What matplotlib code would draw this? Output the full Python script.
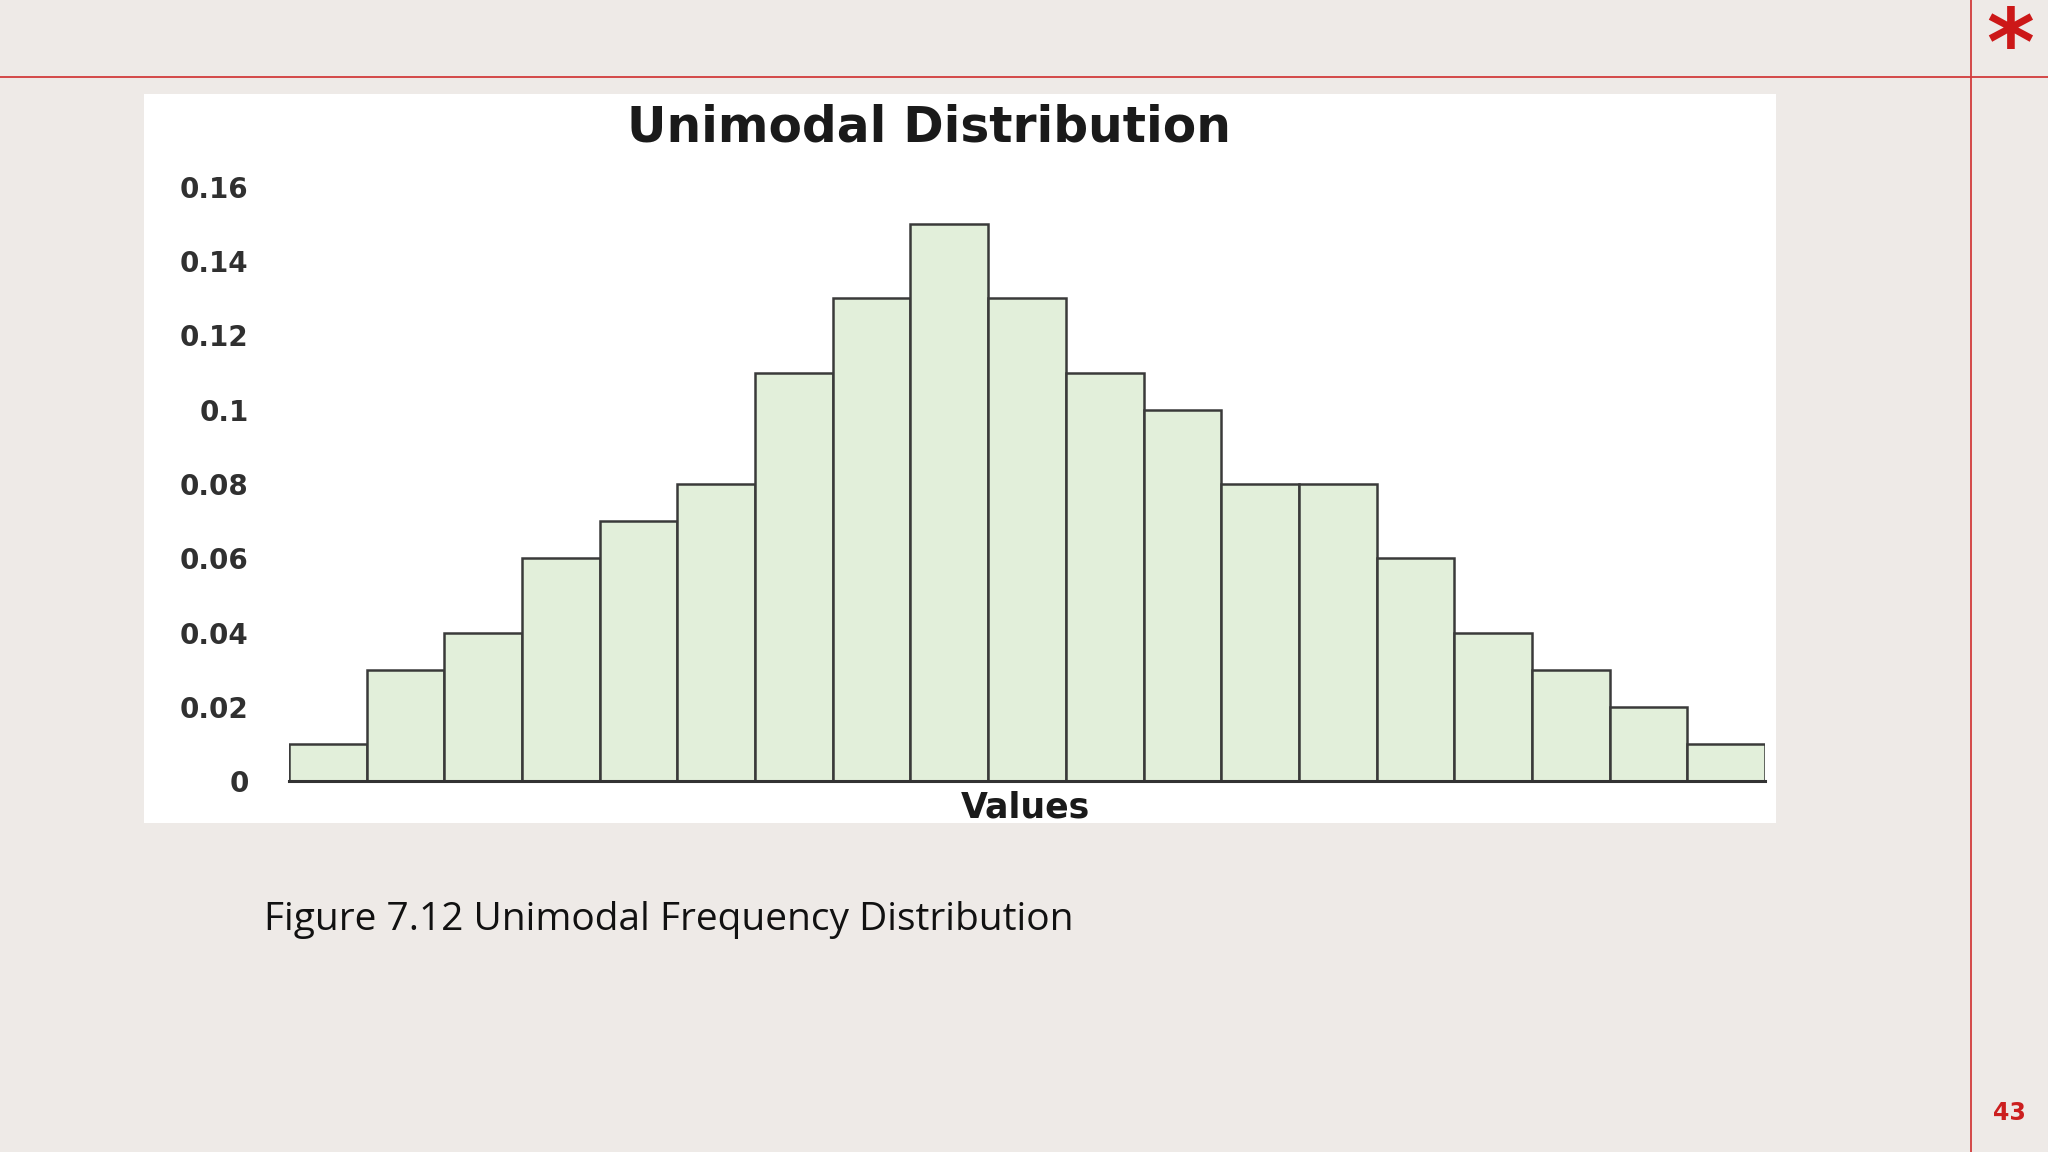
import matplotlib
matplotlib.use("Agg")
import matplotlib.pyplot as plt
from matplotlib.lines import Line2D
from matplotlib.patches import Rectangle

# --- data ---
freq = [0.01, 0.03, 0.04, 0.06, 0.07, 0.08, 0.11, 0.13, 0.15, 0.13,
        0.11, 0.10, 0.08, 0.08, 0.06, 0.04, 0.03, 0.02, 0.01]
yticks = [0, 0.02, 0.04, 0.06, 0.08, 0.1, 0.12, 0.14, 0.16]
ytick_labels = ["0", "0.02", "0.04", "0.06", "0.08", "0.1", "0.12", "0.14", "0.16"]
chart_title = "Unimodal Distribution"
x_label = "Values"
caption = "Figure 7.12 Unimodal Frequency Distribution"
page_no = "43"

W, H = 2048, 1152
bg = "#eeeae7"
red = "#d23c3c"

fig = plt.figure(figsize=(W / 100, H / 100), dpi=100, facecolor=bg)

def fx(px):
    return px / W

def fy(py):
    return 1 - py / H

# slide decoration: red rule lines
fig.add_artist(Line2D([0, 1], [fy(77), fy(77)], color=red, lw=1.3, zorder=0))
fig.add_artist(Line2D([fx(1971), fx(1971)], [0, 1], color=red, lw=1.3, zorder=0))
fig.text(fx(2010), fy(75), "*", color="#cc1818", fontsize=66, fontweight="heavy",
         ha="center", va="baseline")
fig.text(fx(2009), fy(1113), page_no, color="#cc1f1f", fontsize=17, fontweight="bold",
         ha="center", va="center")

# white picture panel
fig.add_artist(Rectangle((fx(144), fy(823)), fx(1776) - fx(144), fy(94) - fy(823),
                         transform=fig.transFigure, facecolor="white", edgecolor="none",
                         zorder=-1))

# plot area
left, right = 289, 1765
base, top = 781, 187
ax = fig.add_axes([fx(left), fy(base), fx(right) - fx(left), fy(top) - fy(base)])
ax.set_zorder(2)
ax.set_facecolor("none")
xs = list(range(len(freq)))
ax.bar(xs, freq, width=1.0, align="center", color="#e2efda",
       edgecolor="#3a3a3a", linewidth=1.8)
ax.set_xlim(-0.5, len(freq) - 0.5)
ax.set_ylim(0, 0.16)
ax.set_yticks(yticks)
ax.set_yticklabels(ytick_labels, fontsize=20, fontweight="semibold", color="#303030")
ax.tick_params(axis="y", length=0, pad=29)
ax.set_xticks([])
for s in ["top", "right", "left"]:
    ax.spines[s].set_visible(False)
ax.spines["bottom"].set_linewidth(2.2)
ax.spines["bottom"].set_color("#333333")

fig.text(fx(929), fy(128), chart_title, fontsize=35, fontweight="bold",
         color="#1a1a1a", ha="center", va="center", zorder=3)
fig.text(fx(1025), fy(808), x_label, fontsize=25, fontweight="bold",
         color="#1a1a1a", ha="center", va="center", zorder=3)

fig.text(fx(264), fy(920), caption, fontsize=28, family="Open Sans",
         color="#111111", ha="left", va="center")

fig.savefig("out.png", dpi=100, facecolor=bg)
